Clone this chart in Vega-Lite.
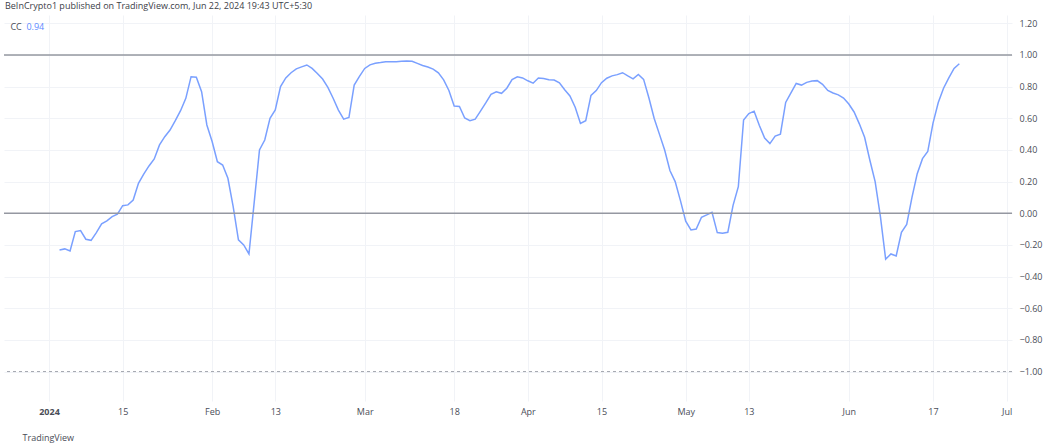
{
  "$schema": "https://vega.github.io/schema/vega-lite/v6.json",
  "width": 1008,
  "height": 386,
  "autosize": {"type": "none"},
  "padding": {"left": 4, "top": 15, "right": 45, "bottom": 46},
  "background": "white",
  "config": {
    "view": {"stroke": null},
    "font": "Open Sans"
  },
  "title": {
    "text": "BeInCrypto1 published on TradingView.com, Jun 22, 2024 19:43 UTC+5:30",
    "anchor": "start",
    "frame": "group",
    "orient": "top",
    "fontSize": 9,
    "fontWeight": "normal",
    "color": "#3b3e47",
    "offset": 4,
    "dx": 1
  },
  "datasets": {
    "cc": [
      {"date": "2024-01-03", "cc": -0.232}, {"date": "2024-01-04", "cc": -0.225}, {"date": "2024-01-05", "cc": -0.238},
      {"date": "2024-01-06", "cc": -0.116}, {"date": "2024-01-07", "cc": -0.109}, {"date": "2024-01-08", "cc": -0.164},
      {"date": "2024-01-09", "cc": -0.171}, {"date": "2024-01-10", "cc": -0.122}, {"date": "2024-01-11", "cc": -0.067},
      {"date": "2024-01-12", "cc": -0.048}, {"date": "2024-01-13", "cc": -0.021}, {"date": "2024-01-14", "cc": -0.006},
      {"date": "2024-01-15", "cc": 0.048}, {"date": "2024-01-16", "cc": 0.053}, {"date": "2024-01-17", "cc": 0.084},
      {"date": "2024-01-18", "cc": 0.189}, {"date": "2024-01-19", "cc": 0.248}, {"date": "2024-01-20", "cc": 0.299},
      {"date": "2024-01-21", "cc": 0.343}, {"date": "2024-01-22", "cc": 0.432}, {"date": "2024-01-23", "cc": 0.484},
      {"date": "2024-01-24", "cc": 0.526}, {"date": "2024-01-25", "cc": 0.585}, {"date": "2024-01-26", "cc": 0.648},
      {"date": "2024-01-27", "cc": 0.726}, {"date": "2024-01-28", "cc": 0.863}, {"date": "2024-01-29", "cc": 0.860},
      {"date": "2024-01-30", "cc": 0.768}, {"date": "2024-01-31", "cc": 0.558}, {"date": "2024-02-01", "cc": 0.453},
      {"date": "2024-02-02", "cc": 0.326}, {"date": "2024-02-03", "cc": 0.305}, {"date": "2024-02-04", "cc": 0.221},
      {"date": "2024-02-05", "cc": 0.042}, {"date": "2024-02-06", "cc": -0.168}, {"date": "2024-02-07", "cc": -0.200},
      {"date": "2024-02-08", "cc": -0.257}, {"date": "2024-02-09", "cc": 0.070}, {"date": "2024-02-10", "cc": 0.400},
      {"date": "2024-02-11", "cc": 0.463}, {"date": "2024-02-12", "cc": 0.600}, {"date": "2024-02-13", "cc": 0.653},
      {"date": "2024-02-14", "cc": 0.800}, {"date": "2024-02-15", "cc": 0.855}, {"date": "2024-02-16", "cc": 0.888},
      {"date": "2024-02-17", "cc": 0.912}, {"date": "2024-02-18", "cc": 0.925}, {"date": "2024-02-19", "cc": 0.937},
      {"date": "2024-02-20", "cc": 0.915}, {"date": "2024-02-21", "cc": 0.883}, {"date": "2024-02-22", "cc": 0.848},
      {"date": "2024-02-23", "cc": 0.795}, {"date": "2024-02-24", "cc": 0.727}, {"date": "2024-02-25", "cc": 0.652},
      {"date": "2024-02-26", "cc": 0.595}, {"date": "2024-02-27", "cc": 0.605}, {"date": "2024-02-28", "cc": 0.810},
      {"date": "2024-02-29", "cc": 0.865}, {"date": "2024-03-01", "cc": 0.915}, {"date": "2024-03-02", "cc": 0.938},
      {"date": "2024-03-03", "cc": 0.948}, {"date": "2024-03-04", "cc": 0.952}, {"date": "2024-03-05", "cc": 0.957},
      {"date": "2024-03-06", "cc": 0.958}, {"date": "2024-03-07", "cc": 0.958}, {"date": "2024-03-08", "cc": 0.960},
      {"date": "2024-03-09", "cc": 0.962}, {"date": "2024-03-10", "cc": 0.960}, {"date": "2024-03-11", "cc": 0.947},
      {"date": "2024-03-12", "cc": 0.934}, {"date": "2024-03-13", "cc": 0.924}, {"date": "2024-03-14", "cc": 0.911},
      {"date": "2024-03-15", "cc": 0.887}, {"date": "2024-03-16", "cc": 0.843}, {"date": "2024-03-17", "cc": 0.776},
      {"date": "2024-03-18", "cc": 0.678}, {"date": "2024-03-19", "cc": 0.675}, {"date": "2024-03-20", "cc": 0.602},
      {"date": "2024-03-21", "cc": 0.585}, {"date": "2024-03-22", "cc": 0.595}, {"date": "2024-03-23", "cc": 0.645},
      {"date": "2024-03-24", "cc": 0.697}, {"date": "2024-03-25", "cc": 0.752}, {"date": "2024-03-26", "cc": 0.768},
      {"date": "2024-03-27", "cc": 0.758}, {"date": "2024-03-28", "cc": 0.790}, {"date": "2024-03-29", "cc": 0.845},
      {"date": "2024-03-30", "cc": 0.862}, {"date": "2024-03-31", "cc": 0.855}, {"date": "2024-04-01", "cc": 0.837},
      {"date": "2024-04-02", "cc": 0.822}, {"date": "2024-04-03", "cc": 0.855}, {"date": "2024-04-04", "cc": 0.851},
      {"date": "2024-04-05", "cc": 0.843}, {"date": "2024-04-06", "cc": 0.842}, {"date": "2024-04-07", "cc": 0.824},
      {"date": "2024-04-08", "cc": 0.780}, {"date": "2024-04-09", "cc": 0.741}, {"date": "2024-04-10", "cc": 0.670},
      {"date": "2024-04-11", "cc": 0.568}, {"date": "2024-04-12", "cc": 0.585}, {"date": "2024-04-13", "cc": 0.745},
      {"date": "2024-04-14", "cc": 0.775}, {"date": "2024-04-15", "cc": 0.825}, {"date": "2024-04-16", "cc": 0.853},
      {"date": "2024-04-17", "cc": 0.868}, {"date": "2024-04-18", "cc": 0.876}, {"date": "2024-04-19", "cc": 0.888},
      {"date": "2024-04-20", "cc": 0.868}, {"date": "2024-04-21", "cc": 0.849}, {"date": "2024-04-22", "cc": 0.877},
      {"date": "2024-04-23", "cc": 0.846}, {"date": "2024-04-24", "cc": 0.730}, {"date": "2024-04-25", "cc": 0.600},
      {"date": "2024-04-26", "cc": 0.500}, {"date": "2024-04-27", "cc": 0.400}, {"date": "2024-04-28", "cc": 0.270},
      {"date": "2024-04-29", "cc": 0.200}, {"date": "2024-04-30", "cc": 0.080}, {"date": "2024-05-01", "cc": -0.050},
      {"date": "2024-05-02", "cc": -0.105}, {"date": "2024-05-03", "cc": -0.100}, {"date": "2024-05-04", "cc": -0.025},
      {"date": "2024-05-05", "cc": -0.010}, {"date": "2024-05-06", "cc": 0.006}, {"date": "2024-05-07", "cc": -0.122},
      {"date": "2024-05-08", "cc": -0.126}, {"date": "2024-05-09", "cc": -0.120}, {"date": "2024-05-10", "cc": 0.050},
      {"date": "2024-05-11", "cc": 0.168}, {"date": "2024-05-12", "cc": 0.589}, {"date": "2024-05-13", "cc": 0.630},
      {"date": "2024-05-14", "cc": 0.645}, {"date": "2024-05-15", "cc": 0.555}, {"date": "2024-05-16", "cc": 0.475},
      {"date": "2024-05-17", "cc": 0.440}, {"date": "2024-05-18", "cc": 0.488}, {"date": "2024-05-19", "cc": 0.500},
      {"date": "2024-05-20", "cc": 0.700}, {"date": "2024-05-21", "cc": 0.760}, {"date": "2024-05-22", "cc": 0.820},
      {"date": "2024-05-23", "cc": 0.810}, {"date": "2024-05-24", "cc": 0.827}, {"date": "2024-05-25", "cc": 0.836},
      {"date": "2024-05-26", "cc": 0.838}, {"date": "2024-05-27", "cc": 0.815}, {"date": "2024-05-28", "cc": 0.776},
      {"date": "2024-05-29", "cc": 0.760}, {"date": "2024-05-30", "cc": 0.748}, {"date": "2024-05-31", "cc": 0.728},
      {"date": "2024-06-01", "cc": 0.690}, {"date": "2024-06-02", "cc": 0.640}, {"date": "2024-06-03", "cc": 0.565},
      {"date": "2024-06-04", "cc": 0.480}, {"date": "2024-06-05", "cc": 0.335}, {"date": "2024-06-06", "cc": 0.200},
      {"date": "2024-06-07", "cc": -0.020}, {"date": "2024-06-08", "cc": -0.290}, {"date": "2024-06-09", "cc": -0.257},
      {"date": "2024-06-10", "cc": -0.270}, {"date": "2024-06-11", "cc": -0.120}, {"date": "2024-06-12", "cc": -0.070},
      {"date": "2024-06-13", "cc": 0.100}, {"date": "2024-06-14", "cc": 0.250}, {"date": "2024-06-15", "cc": 0.345},
      {"date": "2024-06-16", "cc": 0.390}, {"date": "2024-06-17", "cc": 0.570}, {"date": "2024-06-18", "cc": 0.700},
      {"date": "2024-06-19", "cc": 0.790}, {"date": "2024-06-20", "cc": 0.855}, {"date": "2024-06-21", "cc": 0.915},
      {"date": "2024-06-22", "cc": 0.945}
    ],
    "solidLevels": [{"level": 1}, {"level": 0}],
    "dashedLevels": [{"level": -1}],
    "legend": [{"name": "CC", "value": 0.94}]
  },
  "encoding": {
    "y": {
      "type": "quantitative",
      "title": null,
      "scale": {"domain": [-1.186, 1.2527], "nice": false, "zero": false},
      "axis": {
        "orient": "right",
        "tickCount": 12,
        "format": ".2f",
        "grid": true,
        "gridColor": "#f1f3f7",
        "ticks": false,
        "domain": false,
        "labelPadding": 7,
        "labelFontSize": 9,
        "labelColor": "#4a4d57",
        "labelAlign": "left",
        "labelBaseline": "middle",
        "labelOverlap": false,
        "labelBound": false,
        "labelFlush": false,
        "title": null
      }
    }
  },
  "layer": [
    {
      "data": {"name": "cc"},
      "mark": {"type": "line", "color": "#7aa0ff", "strokeWidth": 1.5, "interpolate": "linear"},
      "encoding": {
        "x": {
          "field": "date",
          "type": "temporal",
          "scale": {
            "type": "utc",
            "domain": [
              {"year": 2023, "month": 12, "date": 23, "hours": 10, "minutes": 45, "utc": true},
              {"year": 2024, "month": 7, "date": 2, "hours": 0, "minutes": 15, "utc": true}
            ]
          },
          "axis": {
            "values": [
              {"year": 2024, "month": 1, "date": 1, "utc": true},
              {"year": 2024, "month": 1, "date": 15, "utc": true},
              {"year": 2024, "month": 2, "date": 1, "utc": true},
              {"year": 2024, "month": 2, "date": 13, "utc": true},
              {"year": 2024, "month": 3, "date": 1, "utc": true},
              {"year": 2024, "month": 3, "date": 18, "utc": true},
              {"year": 2024, "month": 4, "date": 1, "utc": true},
              {"year": 2024, "month": 4, "date": 15, "utc": true},
              {"year": 2024, "month": 5, "date": 1, "utc": true},
              {"year": 2024, "month": 5, "date": 13, "utc": true},
              {"year": 2024, "month": 6, "date": 1, "utc": true},
              {"year": 2024, "month": 6, "date": 17, "utc": true},
              {"year": 2024, "month": 7, "date": 1, "utc": true}
            ],
            "labelExpr": "utcdate(datum.value) == 1 ? (utcmonth(datum.value) == 0 ? utcFormat(datum.value, '%Y') : utcFormat(datum.value, '%b')) : utcFormat(datum.value, '%-d')",
            "labelFontWeight": {"condition": {"test": "utcmonth(datum.value) == 0 && utcdate(datum.value) == 1", "value": "bold"}, "value": "normal"},
            "grid": true,
            "gridColor": "#f1f3f7",
            "gridWidth": 1,
            "ticks": false,
            "domain": false,
            "labelPadding": 10,
            "labelBaseline": "middle",
            "labelFontSize": 9,
            "labelColor": "#4a4d57",
            "labelFlush": false,
            "labelBound": false,
            "labelOverlap": false,
            "title": "TradingView",
            "titleAnchor": "start",
            "titleAlign": "left",
            "titleX": 18,
            "titleY": 36,
            "titleBaseline": "middle",
            "titleFontSize": 9,
            "titleFontWeight": "normal",
            "titleColor": "#4a4d57"
          }
        },
        "y": {"field": "cc"}
      }
    },
    {
      "data": {"name": "solidLevels"},
      "mark": {"type": "rule", "color": "#9598a1", "strokeWidth": 1.5},
      "encoding": {"y": {"field": "level"}}
    },
    {
      "data": {"name": "dashedLevels"},
      "mark": {"type": "rule", "color": "#a3a6af", "strokeWidth": 1, "strokeDash": [3, 3]},
      "encoding": {"y": {"field": "level"}}
    },
    {
      "data": {"name": "legend"},
      "mark": {"type": "text", "align": "left", "baseline": "middle", "fontSize": 9, "color": "#4a4d57"},
      "encoding": {
        "x": {"datum": {"year": 2023, "month": 12, "date": 24, "hours": 16, "utc": true}, "type": "temporal"},
        "y": {"datum": 1.177},
        "text": {"field": "name"}
      }
    },
    {
      "data": {"name": "legend"},
      "mark": {"type": "text", "align": "left", "baseline": "middle", "fontSize": 9, "color": "#5d8bff"},
      "encoding": {
        "x": {"datum": {"year": 2023, "month": 12, "date": 27, "hours": 17, "utc": true}, "type": "temporal"},
        "y": {"datum": 1.177},
        "text": {"field": "value", "format": ".2f"}
      }
    }
  ]
}
